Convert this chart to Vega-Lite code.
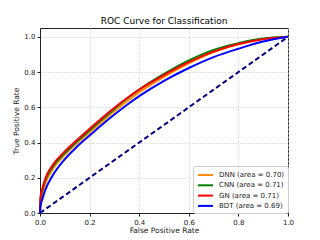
{
  "$schema": "https://vega.github.io/schema/vega-lite/v6.json",
  "width": 248,
  "height": 185,
  "autosize": {"type": "none"},
  "padding": {"left": 40, "top": 28, "right": 32, "bottom": 27},
  "background": "white",
  "title": {"text": "ROC Curve for Classification", "fontSize": 9, "font": "DejaVu Sans", "fontWeight": "normal", "offset": 2.5, "color": "#000"},
  "config": {
    "font": "DejaVu Sans",
    "view": {"stroke": "#222", "strokeWidth": 1},
    "axis": {
      "labelFont": "DejaVu Sans", "labelFontSize": 7, "labelColor": "#222",
      "titleFont": "DejaVu Sans", "titleFontSize": 7.5, "titleFontWeight": "normal", "titleColor": "#222",
      "domainColor": "#222", "tickColor": "#222", "tickSize": 3, "labelPadding": 2,
      "labelOverlap": false, "labelFlush": false,
      "gridColor": "#c8c8c8", "gridDash": [2, 2], "gridWidth": 0.7
    }
  },
  "datasets": {
    "roc": [
      {"model": "DNN (area = 0.70)", "fpr": 0, "tpr": 0},
      {"model": "DNN (area = 0.70)", "fpr": 0.002, "tpr": 0.06},
      {"model": "DNN (area = 0.70)", "fpr": 0.01, "tpr": 0.11},
      {"model": "DNN (area = 0.70)", "fpr": 0.02, "tpr": 0.16},
      {"model": "DNN (area = 0.70)", "fpr": 0.05, "tpr": 0.245},
      {"model": "DNN (area = 0.70)", "fpr": 0.1, "tpr": 0.33},
      {"model": "DNN (area = 0.70)", "fpr": 0.15, "tpr": 0.397},
      {"model": "DNN (area = 0.70)", "fpr": 0.2, "tpr": 0.458},
      {"model": "DNN (area = 0.70)", "fpr": 0.25, "tpr": 0.518},
      {"model": "DNN (area = 0.70)", "fpr": 0.3, "tpr": 0.578},
      {"model": "DNN (area = 0.70)", "fpr": 0.35, "tpr": 0.633},
      {"model": "DNN (area = 0.70)", "fpr": 0.4, "tpr": 0.684},
      {"model": "DNN (area = 0.70)", "fpr": 0.5, "tpr": 0.773},
      {"model": "DNN (area = 0.70)", "fpr": 0.6, "tpr": 0.85},
      {"model": "DNN (area = 0.70)", "fpr": 0.7, "tpr": 0.914},
      {"model": "DNN (area = 0.70)", "fpr": 0.8, "tpr": 0.958},
      {"model": "DNN (area = 0.70)", "fpr": 0.9, "tpr": 0.987},
      {"model": "DNN (area = 0.70)", "fpr": 1.0, "tpr": 1.0},
      {"model": "CNN (area = 0.71)", "fpr": 0, "tpr": 0},
      {"model": "CNN (area = 0.71)", "fpr": 0.002, "tpr": 0.08},
      {"model": "CNN (area = 0.71)", "fpr": 0.01, "tpr": 0.13},
      {"model": "CNN (area = 0.71)", "fpr": 0.02, "tpr": 0.18},
      {"model": "CNN (area = 0.71)", "fpr": 0.05, "tpr": 0.26},
      {"model": "CNN (area = 0.71)", "fpr": 0.1, "tpr": 0.34},
      {"model": "CNN (area = 0.71)", "fpr": 0.15, "tpr": 0.407},
      {"model": "CNN (area = 0.71)", "fpr": 0.2, "tpr": 0.469},
      {"model": "CNN (area = 0.71)", "fpr": 0.25, "tpr": 0.531},
      {"model": "CNN (area = 0.71)", "fpr": 0.3, "tpr": 0.591},
      {"model": "CNN (area = 0.71)", "fpr": 0.35, "tpr": 0.648},
      {"model": "CNN (area = 0.71)", "fpr": 0.4, "tpr": 0.7},
      {"model": "CNN (area = 0.71)", "fpr": 0.5, "tpr": 0.789},
      {"model": "CNN (area = 0.71)", "fpr": 0.6, "tpr": 0.866},
      {"model": "CNN (area = 0.71)", "fpr": 0.7, "tpr": 0.926},
      {"model": "CNN (area = 0.71)", "fpr": 0.8, "tpr": 0.964},
      {"model": "CNN (area = 0.71)", "fpr": 0.9, "tpr": 0.99},
      {"model": "CNN (area = 0.71)", "fpr": 1.0, "tpr": 1.0},
      {"model": "GN (area = 0.71)", "fpr": 0, "tpr": 0},
      {"model": "GN (area = 0.71)", "fpr": 0.002, "tpr": 0.09},
      {"model": "GN (area = 0.71)", "fpr": 0.01, "tpr": 0.14},
      {"model": "GN (area = 0.71)", "fpr": 0.02, "tpr": 0.19},
      {"model": "GN (area = 0.71)", "fpr": 0.05, "tpr": 0.27},
      {"model": "GN (area = 0.71)", "fpr": 0.1, "tpr": 0.35},
      {"model": "GN (area = 0.71)", "fpr": 0.15, "tpr": 0.416},
      {"model": "GN (area = 0.71)", "fpr": 0.2, "tpr": 0.478},
      {"model": "GN (area = 0.71)", "fpr": 0.25, "tpr": 0.539},
      {"model": "GN (area = 0.71)", "fpr": 0.3, "tpr": 0.597},
      {"model": "GN (area = 0.71)", "fpr": 0.35, "tpr": 0.651},
      {"model": "GN (area = 0.71)", "fpr": 0.4, "tpr": 0.7},
      {"model": "GN (area = 0.71)", "fpr": 0.5, "tpr": 0.783},
      {"model": "GN (area = 0.71)", "fpr": 0.6, "tpr": 0.856},
      {"model": "GN (area = 0.71)", "fpr": 0.7, "tpr": 0.916},
      {"model": "GN (area = 0.71)", "fpr": 0.8, "tpr": 0.959},
      {"model": "GN (area = 0.71)", "fpr": 0.9, "tpr": 0.986},
      {"model": "GN (area = 0.71)", "fpr": 1.0, "tpr": 1.0},
      {"model": "BDT (area = 0.69)", "fpr": 0, "tpr": 0},
      {"model": "BDT (area = 0.69)", "fpr": 0.002, "tpr": 0.04},
      {"model": "BDT (area = 0.69)", "fpr": 0.01, "tpr": 0.08},
      {"model": "BDT (area = 0.69)", "fpr": 0.02, "tpr": 0.125},
      {"model": "BDT (area = 0.69)", "fpr": 0.05, "tpr": 0.21},
      {"model": "BDT (area = 0.69)", "fpr": 0.1, "tpr": 0.305},
      {"model": "BDT (area = 0.69)", "fpr": 0.15, "tpr": 0.377},
      {"model": "BDT (area = 0.69)", "fpr": 0.2, "tpr": 0.44},
      {"model": "BDT (area = 0.69)", "fpr": 0.25, "tpr": 0.501},
      {"model": "BDT (area = 0.69)", "fpr": 0.3, "tpr": 0.559},
      {"model": "BDT (area = 0.69)", "fpr": 0.35, "tpr": 0.613},
      {"model": "BDT (area = 0.69)", "fpr": 0.4, "tpr": 0.663},
      {"model": "BDT (area = 0.69)", "fpr": 0.5, "tpr": 0.75},
      {"model": "BDT (area = 0.69)", "fpr": 0.6, "tpr": 0.823},
      {"model": "BDT (area = 0.69)", "fpr": 0.7, "tpr": 0.885},
      {"model": "BDT (area = 0.69)", "fpr": 0.8, "tpr": 0.932},
      {"model": "BDT (area = 0.69)", "fpr": 0.9, "tpr": 0.973},
      {"model": "BDT (area = 0.69)", "fpr": 1.0, "tpr": 1.0}
    ],
    "diag": [
      {"fpr": 0, "tpr": 0},
      {"fpr": 1, "tpr": 1}
    ]
  },
  "encoding": {
    "x": {"field": "fpr", "type": "quantitative", "scale": {"domain": [0, 1], "nice": false},
          "axis": {"title": "False Positive Rate", "values": [0, 0.2, 0.4, 0.6, 0.8, 1.0], "format": ".1f", "titlePadding": 1.5}},
    "y": {"field": "tpr", "type": "quantitative", "scale": {"domain": [0, 1.05], "nice": false},
          "axis": {"title": "True Positive Rate", "values": [0, 0.2, 0.4, 0.6, 0.8, 1.0], "format": ".1f", "titlePadding": 3}}
  },
  "layer": [
    {
      "data": {"name": "diag"},
      "mark": {"type": "line", "color": "#000080", "strokeWidth": 2, "strokeDash": [5, 3]},
      "encoding": {}
    },
    {
      "data": {"name": "roc"},
      "mark": {"type": "line", "strokeWidth": 2, "interpolate": "monotone"},
      "encoding": {
        "color": {
          "field": "model", "type": "nominal",
          "scale": {
            "domain": ["DNN (area = 0.70)", "CNN (area = 0.71)", "GN (area = 0.71)", "BDT (area = 0.69)"],
            "range": ["#ff8c00", "#008000", "#ff0000", "#0000ff"]
          },
          "legend": {
            "title": null, "orient": "none", "legendX": 153, "legendY": 138,
            "symbolType": "M-1.5,0H1.5", "symbolSize": 100, "symbolStrokeWidth": 2, "symbolOffset": 3.5,
            "labelFontSize": 7, "labelFont": "DejaVu Sans", "labelColor": "#222",
            "rowPadding": 0.3, "padding": 3, "labelOffset": 7.5,
            "strokeColor": "#cccccc", "fillColor": "white", "cornerRadius": 2
          }
        }
      }
    }
  ]
}
